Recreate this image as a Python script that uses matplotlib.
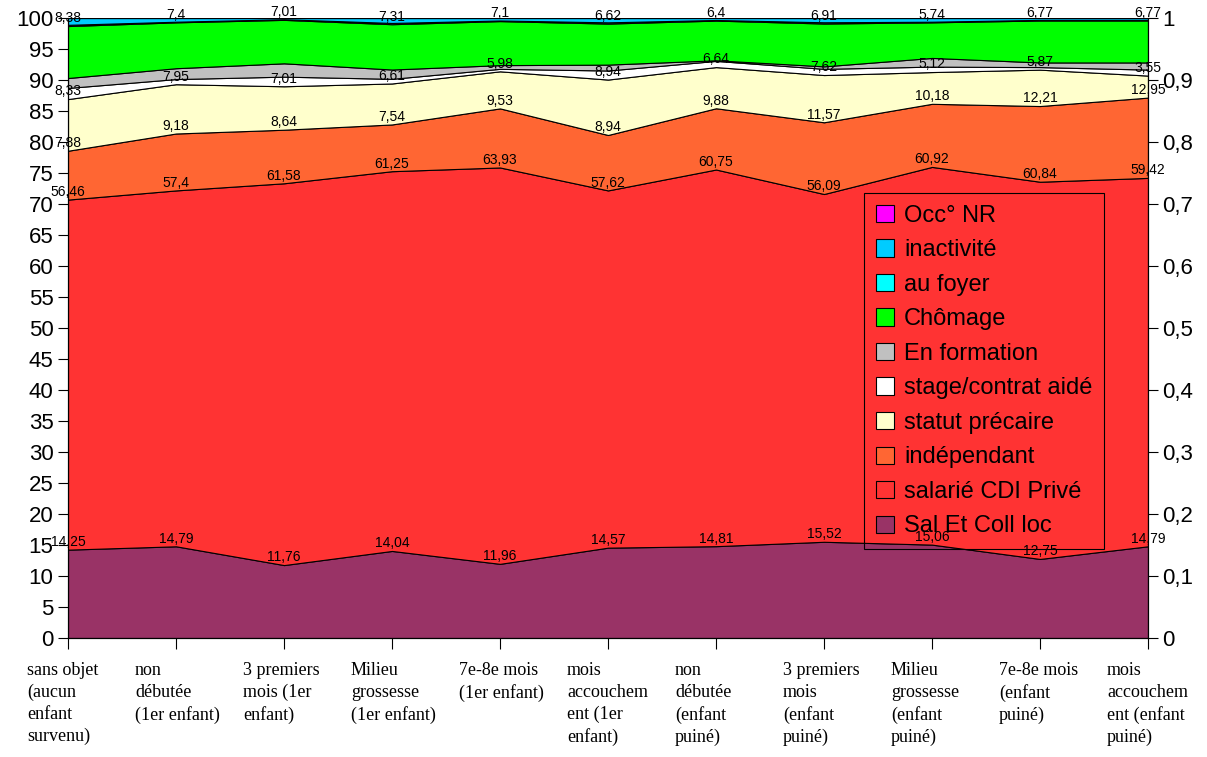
import matplotlib
matplotlib.use("Agg")
import matplotlib.pyplot as plt
from matplotlib.transforms import ScaledTranslation
import numpy as np

categories = [
    "sans objet\n(aucun\nenfant\nsurvenu)",
    "non\ndébutée\n(1er enfant)",
    "3 premiers\nmois (1er\nenfant)",
    "Milieu\ngrossesse\n(1er enfant)",
    "7e-8e mois\n(1er enfant)",
    "mois\naccouchem\nent (1er\nenfant)",
    "non\ndébutée\n(enfant\npuiné)",
    "3 premiers\nmois\n(enfant\npuiné)",
    "Milieu\ngrossesse\n(enfant\npuiné)",
    "7e-8e mois\n(enfant\npuiné)",
    "mois\naccouchem\nent (enfant\npuiné)",
]

sal_coll_loc = [14.25, 14.79, 11.76, 14.04, 11.96, 14.57, 14.81, 15.52, 15.06, 12.75, 14.79]
cdi_prive = [56.46, 57.4, 61.58, 61.25, 63.93, 57.62, 60.75, 56.09, 60.92, 60.84, 59.42]
independant = [7.88, 9.18, 8.64, 7.54, 9.53, 8.94, 9.88, 11.57, 10.18, 12.21, 12.95]
statut_precaire = [8.33, 7.95, 7.01, 6.61, 5.98, 8.94, 6.64, 7.62, 5.12, 5.87, 3.55]
stage_contrat = [1.8, 0.83, 1.55, 0.75, 0.4, 1.46, 1.0, 1.0, 0.88, 0.41, 0.97]
en_formation = [1.6, 1.75, 2.15, 1.5, 0.6, 0.95, 0.1, 0.4, 1.4, 0.75, 1.15]
chomage = [8.38, 7.4, 7.01, 7.31, 7.1, 6.62, 6.4, 6.91, 5.74, 6.77, 6.77]
au_foyer = [0.2, 0.1, 0.1, 0.2, 0.1, 0.2, 0.1, 0.2, 0.1, 0.1, 0.1]
inactivite = [1.1, 0.6, 0.2, 0.8, 0.4, 0.7, 0.32, 0.69, 0.6, 0.3, 0.3]
occ_nr = [0.0] * 11

series = [
    ("Sal Et Coll loc", sal_coll_loc, "#993366", True),
    ("salarié CDI Privé", cdi_prive, "#FF3333", True),
    ("indépendant", independant, "#FF6633", True),
    ("statut précaire", statut_precaire, "#FFFFCC", True),
    ("stage/contrat aidé", stage_contrat, "#FFFFFF", False),
    ("En formation", en_formation, "#C0C0C0", False),
    ("Chômage", chomage, "#00FF00", True),
    ("au foyer", au_foyer, "#00FFFF", False),
    ("inactivité", inactivite, "#00CCFF", False),
    ("Occ° NR", occ_nr, "#FF00FF", False),
]

fig = plt.figure(figsize=(12.07, 7.57), dpi=100)
ax = fig.add_axes([68/1207, 1-638/757, (1148-68)/1207, (638-18)/757])
x = np.arange(len(categories))

vals = [np.array(s[1]) for s in series]
cols = [s[2] for s in series]
ax.stackplot(x, *vals, colors=cols, edgecolor="black", linewidth=0.8)

cum = np.zeros(len(x))
for name, v, c, lab in series:
    cum = cum + np.array(v)
    if lab:
        for xi, yi, vi in zip(x, cum, v):
            ax.text(xi, yi + 0.1, f"{vi:g}".replace(".", ","), ha="center", va="bottom",
                    fontsize=10, family="Liberation Sans", zorder=5)

ax.set_xlim(0, len(categories) - 1)
ax.set_ylim(0, 100)
ax.set_yticks(np.arange(0, 101, 5))
ax.tick_params(axis="y", labelsize=16, length=7, width=0.8, direction="out")
for t in ax.get_yticklabels():
    t.set_family("Liberation Sans")
ax.set_xticks(x)
ax.set_xticklabels(categories, ha="left", multialignment="left", fontsize=13,
                   family="Liberation Serif", linespacing=1.38, va="top")
ax.tick_params(axis="x", length=8, width=0.8, direction="out", pad=9)
off = ScaledTranslation(-41/100, 0, fig.dpi_scale_trans)
for t in ax.get_xticklabels():
    t.set_transform(t.get_transform() + off)

ax.spines["top"].set_visible(False)
for sp in ["left", "bottom", "right"]:
    ax.spines[sp].set_linewidth(0.8)

ax2 = ax.twinx()
ax2.set_ylim(0, 1)
r_ticks = [i / 10 for i in range(11)]
ax2.set_yticks(r_ticks)
ax2.set_yticklabels([f"{t:g}".replace(".", ",") for t in r_ticks], family="Liberation Sans")
ax2.tick_params(axis="y", labelsize=16, length=7, width=0.8, direction="out")
ax2.spines["top"].set_visible(False)

handles = [plt.Rectangle((0, 0), 1, 1, facecolor=s[2], edgecolor="black", linewidth=0.8)
           for s in series][::-1]
labels = [s[0] for s in series][::-1]
leg = ax2.legend(handles, labels, loc="upper left", bbox_to_anchor=((864-68)/1080, (638-193)/620),
                 frameon=True, fancybox=False, edgecolor="black",
                 prop={"family": "Liberation Sans", "size": 17}, handlelength=0.75,
                 handleheight=0.75, labelspacing=0.53, borderpad=0.5, handletextpad=0.45,
                 borderaxespad=0)
fr = leg.get_frame()
fr.set_facecolor("none")
fr.set_edgecolor("black")
fr.set_alpha(None)
fr.set_linewidth(0.8)

fig.savefig("out.png", dpi=100)
